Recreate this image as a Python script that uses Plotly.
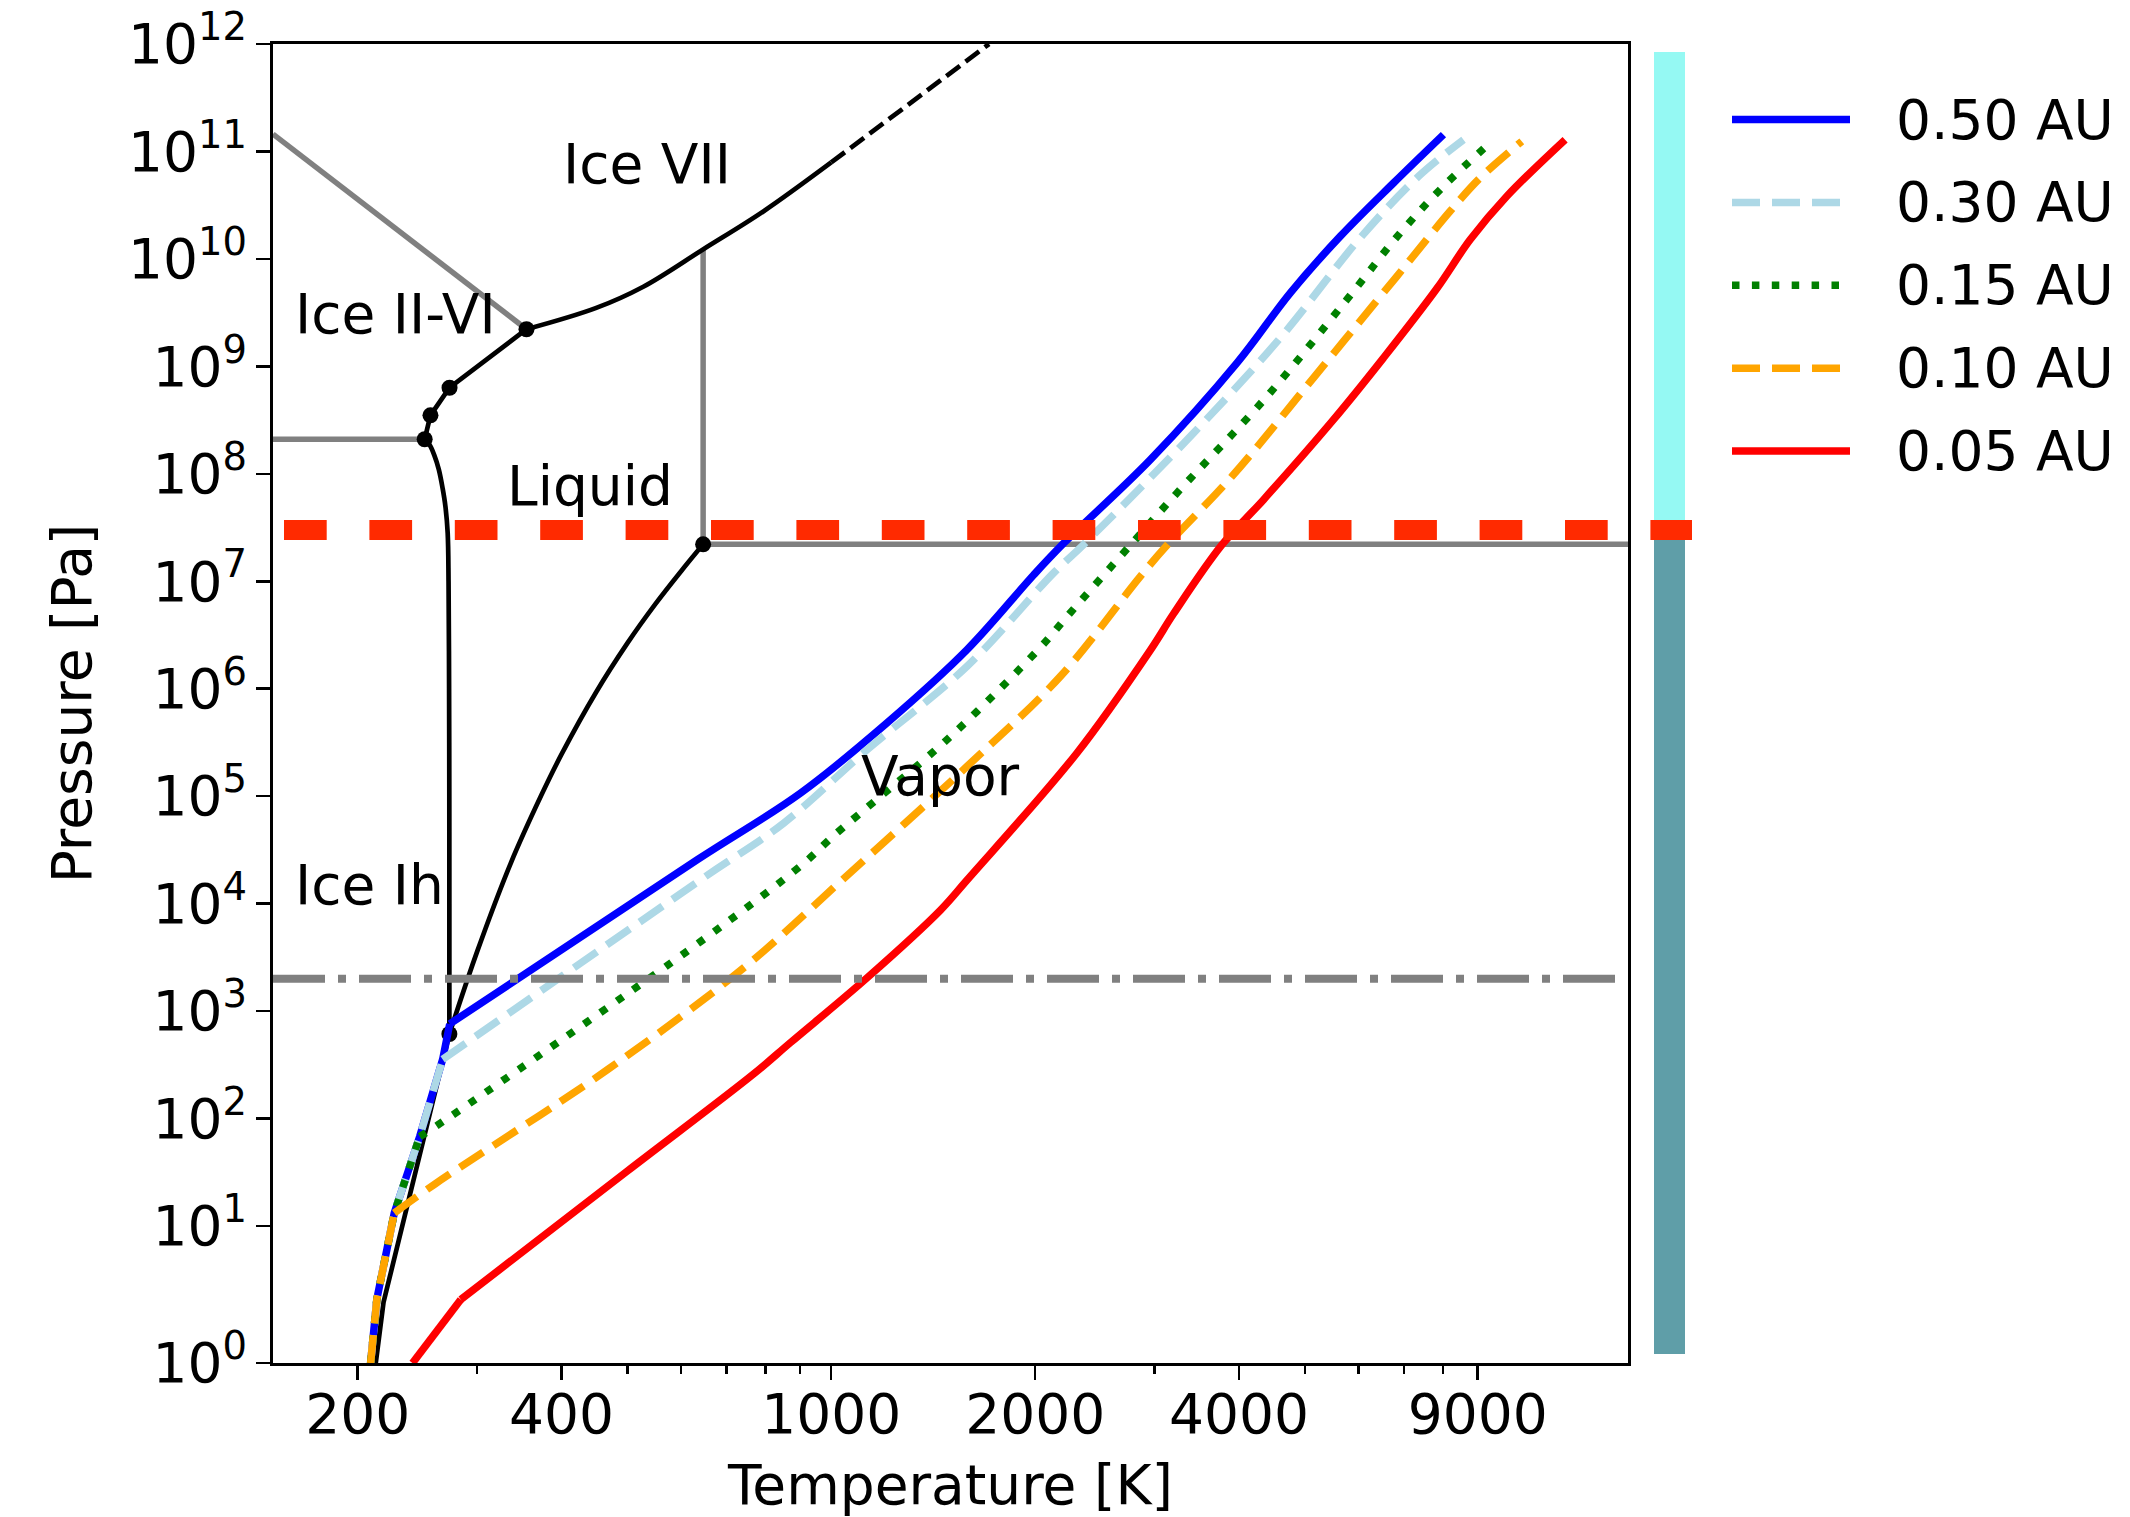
import math
import plotly.graph_objects as go

FONT = "DejaVu Sans"
FS = 55

# ---------------- axes ----------------
X_MIN, X_MAX = 150, 15000
Y_LOG_MIN, Y_LOG_MAX = -0.275, 12.0
x_ticks = [200, 400, 1000, 2000, 4000, 9000]
x_minor = [300, 500, 600, 700, 800, 900, 3000, 5000, 6000, 7000, 8000]
y_exps = list(range(0, 13))

# ---------------- profiles (T [K], P [Pa]) ----------------
labels = ["0.50 AU", "0.30 AU", "0.15 AU", "0.10 AU", "0.05 AU"]
colors = ["#0000ff", "#add8e6", "#008000", "#ffa500", "#ff0000"]
dashes = ["solid", "28px,12px", "7.5px,12.4px", "28px,12px", "solid"]

t_050 = [209, 213.5, 226.5, 247, 267, 273.5, 634.6, 901.5, 1209, 1587, 1991, 2204, 2959, 3972, 4761, 5640, 6761, 8011]
p_050 = [0.53, 2.09, 13.2, 68.2, 355, 760, 2.565e4, 1.07e5, 4.81e5, 2.31e6, 1.15e7, 2.26e7, 1.355e8, 1.076e9, 4.83e9, 1.62e10, 5.09e10, 1.435e11]

t_030 = [209, 213.5, 226.5, 247, 267, 642, 851.6, 1130, 1587, 2131, 2360, 3428, 4601, 6037, 7362, 8577]
p_030 = [0.53, 2.09, 13.2, 68.2, 355, 1.671e4, 5.636e4, 2.71e5, 1.618e6, 1.2e7, 2.208e7, 2.404e8, 1.841e9, 1.567e10, 5.875e10, 1.288e11]

t_015 = [209, 213.5, 226.5, 247, 260.9, 642, 909.6, 1009, 1491.6, 2036, 2242, 2787, 3239, 4398, 5768, 6918, 8011, 9441]
p_015 = [0.53, 2.09, 13.2, 68.2, 84.7, 4457, 2.355e4, 4.295e4, 3.483e5, 2.427e6, 4.9e6, 2.3e7, 6.637e7, 5.26e8, 4.178e9, 1.746e10, 4.742e10, 1.242e11]

t_010 = [209, 213.5, 226.5, 259.4, 467.5, 747.7, 1032.5, 1587, 2179, 2860, 3140, 3905, 5151, 6838, 8193, 9074, 10455]
p_010 = [0.53, 2.09, 13.2, 24.3, 285, 2612, 1.611e4, 1.897e5, 1.303e6, 1.112e7, 2.208e7, 9.48e7, 7.816e8, 6.887e9, 2.773e10, 5.675e10, 1.242e11]

t_005 = [241, 256.5, 284, 500, 770, 871, 1130, 1450, 1587, 2304, 2959, 3203, 3775, 4347, 5513, 6535, 7833, 8775, 9936, 12113]
p_005 = [0.53, 0.875, 2.07, 32.4, 263, 510, 2042, 8710, 1.66e4, 2.512e5, 2.29e6, 5.01e6, 2.19e7, 5.75e7, 3.19e8, 1.2e9, 5.3e9, 1.514e10, 3.83e10, 1.288e11]

# index of the point where each profile leaves the saturation (kinked) branch
kink_index = [5, 4, 3, 2, 2]

profiles_t = [t_050, t_030, t_015, t_010, t_005]
profiles_p = [p_050, p_030, p_015, p_010, p_005]

# ---------------- water phase diagram ----------------
sub_t = [212.7, 218.4, 273.16]
sub_p = [0.53, 1.95, 611.657]

melt_ih_t = [273.16, 273.15, 273.1, 272.9, 272.4, 271.6, 269.5, 267, 263.5, 259.4, 255.5, 251.165]
melt_ih_p = [611.657, 1e4, 1e5, 1e6, 1e7, 2.8e7, 5e7, 7.3e7, 1.1e8, 1.5e8, 1.85e8, 2.099e8]

vap_t = [273.16, 300, 336.7, 373.15, 400, 450, 500, 550, 600, 647.096]
vap_p = [611.657, 3537, 2.4e4, 1.01325e5, 2.458e5, 9.32e5, 2.639e6, 6.118e6, 1.234e7, 2.2064e7]

ice_t = [251.165, 256.164, 273.31, 355.0]
ice_p = [2.099e8, 3.501e8, 6.324e8, 2.216e9]

vii_t = [355, 449, 528, 647.6, 793, 1000]
vii_p = [2.216e9, 3.48e9, 5.51e9, 1.23e10, 2.75e10, 7.9e10]
vii_ext_t = [1000, 1710]
vii_ext_p = [7.9e10, 1e12]

diag_t = [150, 355]
diag_p = [1.45e11, 2.216e9]
ih3_t = [150, 251.165]
ih3_p = [2.099e8, 2.099e8]
crit_v_t = [647.096, 647.096]
crit_v_p = [2.2064e7, 1.23e10]
crit_h_t = [647.096, 15000]
crit_h_p = [2.2064e7, 2.2064e7]

point_t = [273.16, 647.096, 251.165, 256.164, 273.31, 355.0]
point_p = [611.657, 2.2064e7, 2.099e8, 3.501e8, 6.324e8, 2.216e9]

ref_low_p = 2000      # dash-dot level
ref_high_p = 3e7      # thick red dashed level

region_names = ["Ice VII", "Ice II-VI", "Liquid", "Vapor", "Ice Ih"]
region_t = [534, 227.1, 440, 1452, 208]
region_p = [7.7e10, 3.1e9, 7.76e7, 1.53e5, 1.5e4]

# ---------------- figure ----------------
fig = go.Figure()

def line(x, y, color, width, dash="solid", shape="linear"):
    fig.add_trace(go.Scatter(x=x, y=y, mode="lines", showlegend=False, hoverinfo="skip",
                             line=dict(color=color, width=width, dash=dash, shape=shape,
                                       smoothing=1.0 if shape == "spline" else None)))

GRAY = "#808080"
line(diag_t, diag_p, GRAY, 5.5)
line(ih3_t, ih3_p, GRAY, 5.5)
line(crit_v_t, crit_v_p, GRAY, 5.5)
line(crit_h_t, crit_h_p, GRAY, 5.5)

line(sub_t, sub_p, "black", 4.7)
line(melt_ih_t, melt_ih_p, "black", 4.7, shape="spline")
line(vap_t, vap_p, "black", 4.7, shape="spline")
line(ice_t, ice_p, "black", 4.7)
line(vii_t, vii_p, "black", 4.7, shape="spline")
line(vii_ext_t, vii_ext_p, "black", 4.7, "17px,7px")

fig.add_trace(go.Scatter(x=point_t, y=point_p, mode="markers", showlegend=False, hoverinfo="skip",
                         marker=dict(color="black", size=16)))

for t, p, c, d, k in zip(profiles_t, profiles_p, colors, dashes, kink_index):
    line(t[:k + 1], p[:k + 1], c, 7.5, d)
    line(t[k:], p[k:], c, 7.5, d, shape="spline")

line([X_MIN, X_MAX], [ref_low_p, ref_low_p], GRAY, 8, "52px,13px,8px,13px")

# region labels (log axes -> annotation coords in log10)
for name, t, p in zip(region_names, region_t, region_p):
    fig.add_annotation(x=math.log10(t), y=math.log10(p), text=name, showarrow=False,
                       xref="x", yref="y", xanchor="center", yanchor="middle",
                       font=dict(family=FONT, size=FS, color="black"))

# ---------------- paper-space decorations ----------------
L, R, T, B = 273, 502, 44, 154
W, H = 2130, 1517
PW, PH = W - L - R, H - T - B

def px_x(px):
    return (px - L) / PW

def px_y(py):
    return (H - B - py) / PH

def p_to_paper(p):
    return (math.log10(p) - Y_LOG_MIN) / (Y_LOG_MAX - Y_LOG_MIN)

shapes = []
split = p_to_paper(ref_high_p)
shapes.append(dict(type="rect", xref="paper", yref="paper", x0=px_x(1654), x1=px_x(1685),
                   y0=px_y(1354), y1=split, fillcolor="#5f9ea8", line=dict(width=0)))
shapes.append(dict(type="rect", xref="paper", yref="paper", x0=px_x(1654), x1=px_x(1685),
                   y0=split, y1=px_y(52), fillcolor="#95f9f3", line=dict(width=0)))
shapes.append(dict(type="line", xref="paper", yref="paper", x0=px_x(284), x1=px_x(1692),
                   y0=split, y1=split, line=dict(color="#ff2a00", width=20, dash="42.7px,42.7px")))

# custom legend
legend_rows = [119.5, 202.4, 285.3, 368.2, 451.0]
for name, c, d, ry in zip(labels, colors, dashes, legend_rows):
    shapes.append(dict(type="line", xref="paper", yref="paper", x0=px_x(1732), x1=px_x(1850),
                       y0=px_y(ry), y1=px_y(ry), line=dict(color=c, width=7.5, dash=d)))
    fig.add_annotation(x=px_x(1894), y=px_y(ry), xref="paper", yref="paper", text=name,
                       showarrow=False, xanchor="left", yanchor="middle",
                       font=dict(family=FONT, size=FS, color="black"))

y_tickvals = [10 ** Y_LOG_MIN if e == 0 else 10 ** e for e in y_exps]
y_ticktext = ["10<sup>%d</sup>" % e for e in y_exps]

axis_common = dict(type="log", showgrid=False, zeroline=False, showline=True, linecolor="black",
                   linewidth=3, mirror=True, ticks="outside", ticklen=14, tickwidth=2.5,
                   tickcolor="black", ticklabeloverflow="allow",
                   tickfont=dict(family=FONT, size=FS, color="black"))

fig.update_layout(
    width=W, height=H,
    margin=dict(l=L, r=R, t=T, b=B, autoexpand=False),
    paper_bgcolor="white", plot_bgcolor="white",
    showlegend=False,
    font=dict(family=FONT, size=FS, color="black"),
    shapes=shapes,
    xaxis=dict(axis_common, range=[math.log10(X_MIN), math.log10(X_MAX)],
               tickmode="array", tickvals=x_ticks, ticktext=[str(v) for v in x_ticks],
               ticklabelstandoff=-13,
               minor=dict(tickmode="array", tickvals=x_minor, ticks="outside", ticklen=8,
                          tickwidth=2.5, tickcolor="black"),
               title=dict(text="Temperature [K]", font=dict(family=FONT, size=FS), standoff=35)),
    yaxis=dict(axis_common, range=[Y_LOG_MIN, Y_LOG_MAX],
               tickmode="array", tickvals=y_tickvals, ticktext=y_ticktext,
               ticklabelstandoff=-2,
               title=dict(text="Pressure [Pa]", font=dict(family=FONT, size=FS), standoff=19)),
)

fig.write_html("out.html",
               config={"displayModeBar": False, "staticPlot": True},
               post_script="document.body.style.margin='0';document.body.style.overflow='hidden';")
